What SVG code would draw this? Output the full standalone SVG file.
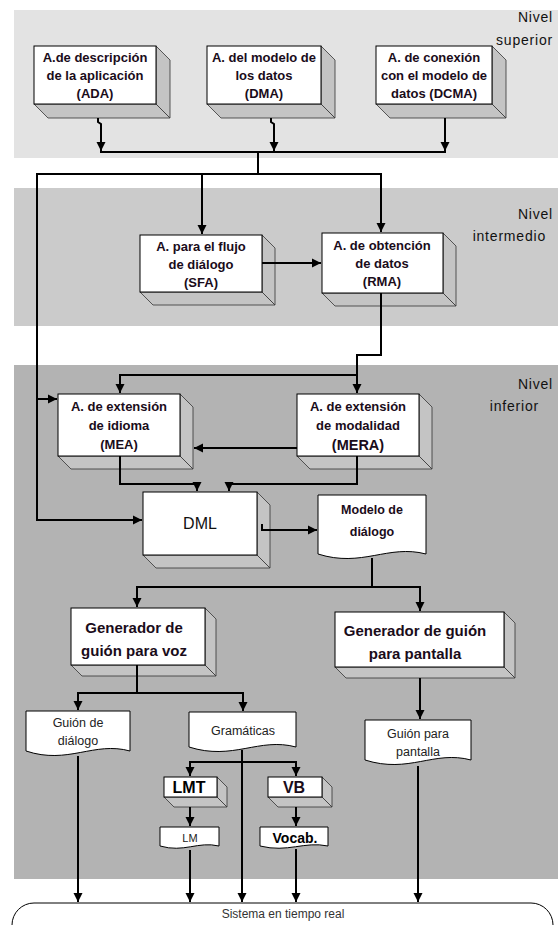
<svg xmlns="http://www.w3.org/2000/svg" width="558" height="925" viewBox="0 0 558 925">
<style>
.band1{fill:#e3e3e3}
.band2{fill:#cbcbcb}
.band3{fill:#b3b3b3}
.front{fill:#ffffff;stroke:#000;stroke-width:1}
.depth{fill:#c4c4c4;stroke:#333;stroke-width:0.8}
.doc{fill:#ffffff;stroke:#000;stroke-width:1}
.t{font-family:"Liberation Sans",Arial,sans-serif;font-weight:bold;font-size:13px;fill:#1a0c1a;text-anchor:middle}
.r{font-family:"Liberation Sans",Arial,sans-serif;font-size:12.5px;fill:#222;text-anchor:middle}
.lvl{font-family:"Liberation Sans",Arial,sans-serif;font-size:14px;fill:#111;text-anchor:end;letter-spacing:0.8px}
.c{fill:none;stroke:#000;stroke-width:2}
</style>
<defs>
<marker id="ah" viewBox="0 0 10 10" refX="10" refY="5" markerWidth="9" markerHeight="10" markerUnits="userSpaceOnUse" orient="auto">
<path d="M0,0 L10,5 L0,10 z" fill="#000"/>
</marker>
</defs>
<rect class="band1" x="14" y="10" width="544" height="148"/>
<rect class="band2" x="14" y="188" width="544" height="138"/>
<rect class="band3" x="14" y="365" width="544" height="514"/>
<g id="levels">
<text class="lvl" x="553" y="22">Nivel</text>
<text class="lvl" x="553" y="45">superior</text>
<text class="lvl" x="553" y="219">Nivel</text>
<text class="lvl" x="546" y="241">intermedio</text>
<text class="lvl" x="553" y="389">Nivel</text>
<text class="lvl" x="539" y="411">inferior</text>
</g>
<g id="ADA">
<polygon class="depth" points="156,46 170,60 170,118 156,104"/>
<polygon class="depth" points="34,104 156,104 170,118 48,118"/>
<rect class="front" x="34" y="46" width="122" height="58"/>
<text class="t" x="95" y="62">A.de descripción</text>
<text class="t" x="95" y="80">de la aplicación</text>
<text class="t" x="95" y="98">(ADA)</text>
</g>
<g id="DMA">
<polygon class="depth" points="321,46 335,60 335,118 321,104"/>
<polygon class="depth" points="207,104 321,104 335,118 221,118"/>
<rect class="front" x="207" y="46" width="114" height="58"/>
<text class="t" x="264" y="62">A. del modelo de</text>
<text class="t" x="264" y="80">los datos</text>
<text class="t" x="264" y="98">(DMA)</text>
</g>
<g id="DCMA">
<polygon class="depth" points="492,46 506,60 506,118 492,104"/>
<polygon class="depth" points="376,104 492,104 506,118 390,118"/>
<rect class="front" x="376" y="46" width="116" height="58"/>
<text class="t" x="434" y="62">A. de conexión</text>
<text class="t" x="434" y="80">con el modelo de</text>
<text class="t" x="434" y="98">datos (DCMA)</text>
</g>
<g id="SFA">
<polygon class="depth" points="262,235 275,248 275,305 262,292"/>
<polygon class="depth" points="140,292 262,292 275,305 153,305"/>
<rect class="front" x="140" y="235" width="122" height="57"/>
<text class="t" x="201" y="251">A. para el flujo</text>
<text class="t" x="201" y="269">de diálogo</text>
<text class="t" x="201" y="287">(SFA)</text>
</g>
<g id="RMA">
<polygon class="depth" points="443,233 456,246 456,306 443,293"/>
<polygon class="depth" points="322,293 443,293 456,306 335,306"/>
<rect class="front" x="322" y="233" width="121" height="60"/>
<text class="t" x="382" y="250">A. de obtención</text>
<text class="t" x="382" y="268">de datos</text>
<text class="t" x="382" y="286">(RMA)</text>
</g>
<g id="MEA">
<polygon class="depth" points="180,394 193,407 193,469 180,456"/>
<polygon class="depth" points="58,456 180,456 193,469 71,469"/>
<rect class="front" x="58" y="394" width="122" height="62"/>
<text class="t" x="119" y="411">A. de extensión</text>
<text class="t" x="119" y="430">de idioma</text>
<text class="t" x="119" y="449">(MEA)</text>
</g>
<g id="MERA">
<polygon class="depth" points="419,394 432,407 432,469 419,456"/>
<polygon class="depth" points="297,456 419,456 432,469 310,469"/>
<rect class="front" x="297" y="394" width="122" height="62"/>
<text class="t" x="358" y="411">A. de extensión</text>
<text class="t" x="358" y="430">de modalidad</text>
<text class="t" x="358" y="450" style="font-size:14.5px">(MERA)</text>
</g>
<g id="DML">
<polygon class="depth" points="257,492 270,505 270,568 257,555"/>
<polygon class="depth" points="143,555 257,555 270,568 156,568"/>
<rect class="front" x="143" y="492" width="114" height="63"/>
<text class="r" x="200" y="529" style="font-size:16px;fill:#111">DML</text>
</g>
<g id="modelo">
<path class="doc" d="M318,495 H426 V554 C388,544 362,568 318,554 Z"/>
<text class="t" x="372" y="514" style="font-size:12.5px">Modelo de</text>
<text class="t" x="372" y="536" style="font-size:12.5px">diálogo</text>
</g>
<g id="voz">
<polygon class="depth" points="205,608 216,619 216,676 205,665"/>
<polygon class="depth" points="71,665 205,665 216,676 82,676"/>
<rect class="front" x="71" y="608" width="134" height="57"/>
<text class="t" x="134" y="633" style="font-size:15px">Generador de</text>
<text class="t" x="134" y="656" style="font-size:15px">guión para voz</text>
</g>
<g id="pantalla">
<polygon class="depth" points="504,612 515,623 515,678 504,667"/>
<polygon class="depth" points="335,667 504,667 515,678 346,678"/>
<rect class="front" x="335" y="612" width="169" height="55"/>
<text class="t" x="415" y="636" style="font-size:15px">Generador de guión</text>
<text class="t" x="415" y="659" style="font-size:15px">para pantalla</text>
</g>
<g id="guion-dialogo">
<path class="doc" d="M26,711 H130 V751 C94,741 68,765 26,751 Z"/>
<text class="r" x="78" y="727">Guión de</text>
<text class="r" x="78" y="745">diálogo</text>
</g>
<g id="gramaticas">
<path class="doc" d="M189,712 H296 V747 C259,737 233,761 189,747 Z"/>
<text class="r" x="243" y="735">Gramáticas</text>
</g>
<g id="guion-pantalla">
<path class="doc" d="M365,720 H471 V760 C434,750 409,774 365,760 Z"/>
<text class="r" x="418" y="738">Guión para</text>
<text class="r" x="418" y="756">pantalla</text>
</g>
<g id="LMT">
<polygon class="depth" points="217,777 227,787 227,807 217,797"/>
<polygon class="depth" points="164,797 217,797 227,807 174,807"/>
<rect class="front" x="164" y="777" width="53" height="20"/>
<text class="t" x="189" y="793" style="font-size:16px;fill:#000">LMT</text>
</g>
<g id="VB">
<polygon class="depth" points="322,777 332,787 332,807 322,797"/>
<polygon class="depth" points="268,797 322,797 332,807 278,807"/>
<rect class="front" x="268" y="777" width="54" height="20"/>
<text class="t" x="294" y="793" style="font-size:16px">VB</text>
</g>
<g id="LM">
<path class="doc" d="M160,827 H219 V846 C198,841 184,853 160,846 Z"/>
<text class="r" x="190" y="842" style="font-size:11px">LM</text>
</g>
<g id="vocab">
<path class="doc" d="M260,827 H328 V846 C304,841 288,853 260,846 Z"/>
<text class="t" x="295" y="843" style="font-size:14px;fill:#000">Vocab.</text>
</g>
<g id="sistema">
<rect class="doc" x="12" y="903" width="541" height="50" rx="22" ry="22"/>
<text class="r" x="283" y="918" style="font-size:12px;fill:#333">Sistema en tiempo real</text>
</g>
<g id="connectors">
<path class="c" d="M98,118 V122 L101,124 V151" marker-end="url(#ah)"/>
<path class="c" d="M271,118 V122 L274,124 V151" marker-end="url(#ah)"/>
<path class="c" d="M445,118 V151" marker-end="url(#ah)"/>
<path class="c" d="M100,152 H446 M258,152 V174"/>
<path class="c" d="M36,174 H382"/>
<path class="c" d="M202,174 V234" marker-end="url(#ah)"/>
<path class="c" d="M381,174 V232" marker-end="url(#ah)"/>
<path class="c" d="M37,174 V520 H142" marker-end="url(#ah)"/>
<path class="c" d="M37,399 H57" marker-end="url(#ah)"/>
<path class="c" d="M262,263 H321" marker-end="url(#ah)"/>
<path class="c" d="M381,293 V355 H357 V393" marker-end="url(#ah)"/>
<path class="c" d="M358,375 H120 V393" marker-end="url(#ah)"/>
<path class="c" d="M297,448 H194" marker-end="url(#ah)"/>
<path class="c" d="M120,456 V484 H197 V491" marker-end="url(#ah)"/>
<path class="c" d="M357,456 V484 H229 V491" marker-end="url(#ah)"/>
<path class="c" d="M262,524 V530 H317" marker-end="url(#ah)"/>
<path class="c" d="M372,558 V587 M136,587 H421"/>
<path class="c" d="M137,587 V607" marker-end="url(#ah)"/>
<path class="c" d="M420,587 V611" marker-end="url(#ah)"/>
<path class="c" d="M137,665 V693 M77,693 H244"/>
<path class="c" d="M78,693 V710" marker-end="url(#ah)"/>
<path class="c" d="M243,693 V711" marker-end="url(#ah)"/>
<path class="c" d="M420,678 V719" marker-end="url(#ah)"/>
<path class="c" d="M242,750 V902" marker-end="url(#ah)"/>
<path class="c" d="M189,762 H297"/>
<path class="c" d="M190,762 V776" marker-end="url(#ah)"/>
<path class="c" d="M296,762 V776" marker-end="url(#ah)"/>
<path class="c" d="M190,807 V826" marker-end="url(#ah)"/>
<path class="c" d="M296,807 V826" marker-end="url(#ah)"/>
<path class="c" d="M190,850 V902" marker-end="url(#ah)"/>
<path class="c" d="M296,849 V902" marker-end="url(#ah)"/>
<path class="c" d="M78,756 V902" marker-end="url(#ah)"/>
<path class="c" d="M418,766 V902" marker-end="url(#ah)"/>
</g>
</svg>
